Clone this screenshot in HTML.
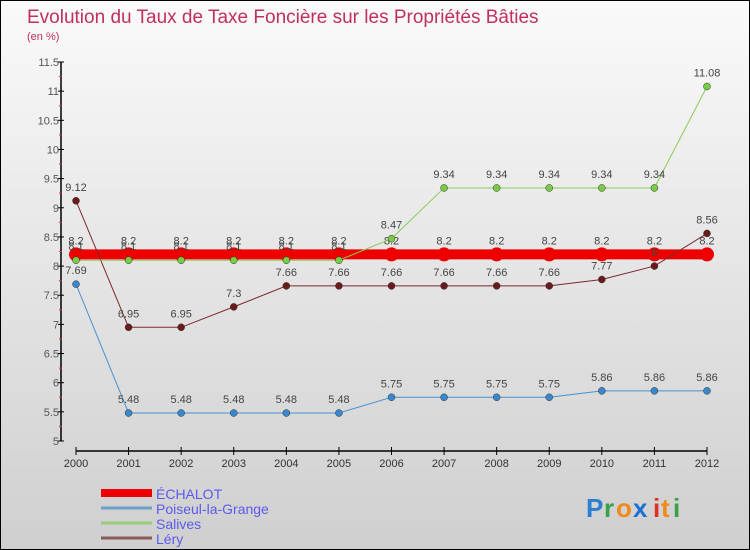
<!DOCTYPE html>
<html><head><meta charset="utf-8"><style>
body{margin:0;}
#wrap{width:748px;height:548px;border:1px solid #000;background:linear-gradient(#fafafa,#cfcfcf);position:relative;overflow:hidden;font-family:"Liberation Sans",sans-serif;}
</style></head><body>
<div id="wrap">
<svg id="svg" width="748" height="548" xmlns="http://www.w3.org/2000/svg">
<text x="26" y="22" font-size="19" fill="#c0305a">Evolution du Taux de Taxe Foncière sur les Propriétés Bâties</text>
<text x="26" y="39" font-size="11" fill="#c0305a">(en %)</text>
<g id="axes"></g><g id="series"></g><g id="legend"></g>
<g font-size="26" font-weight="bold">
<text x="585" y="516" fill="#2a7fd0">P</text><text x="603" y="516" fill="#3aa04a">r</text><text x="615" y="516" fill="#f08a1a">o</text><text x="632" y="516" fill="#1a6fd0">x</text><text x="652" y="516" fill="#e03020">i</text><text x="660" y="516" fill="#f08a1a">t</text><text x="672" y="516" fill="#3aa04a">i</text>
</g>
</svg></div>
<script>
const years=[2000,2001,2002,2003,2004,2005,2006,2007,2008,2009,2010,2011,2012];
const yTicks=[5,5.5,6,6.5,7,7.5,8,8.5,9,9.5,10,10.5,11,11.5];
const echalot=[8.2,8.2,8.2,8.2,8.2,8.2,8.2,8.2,8.2,8.2,8.2,8.2,8.2];
const poiseul=[7.69,5.48,5.48,5.48,5.48,5.48,5.75,5.75,5.75,5.75,5.86,5.86,5.86];
const salives=[8.1,8.1,8.1,8.1,8.1,8.1,8.47,9.34,9.34,9.34,9.34,9.34,11.08];
const lery=[9.12,6.95,6.95,7.3,7.66,7.66,7.66,7.66,7.66,7.66,7.77,8,8.56];
const NS="http://www.w3.org/2000/svg";
const X=i=>75+i*(706-75)/12;
const Y=v=>440-(v-5)*(440-61)/6.5;
function mk(p,t,a){const e=document.createElementNS(NS,t);for(const k in a)e.setAttribute(k,a[k]);p.appendChild(e);return e;}
const ax=document.getElementById('axes'),se=document.getElementById('series'),lg=document.getElementById('legend');
let yl=mk(ax,'line',{x1:60,y1:61,x2:60,y2:440,stroke:'#000','stroke-width':1.5});


let xl=mk(ax,'line',{x1:75,y1:450,x2:706,y2:450,stroke:'#000','stroke-width':1.5});


yTicks.forEach((v,i)=>{
  mk(ax,'line',{x1:57,y1:Y(v),x2:63,y2:Y(v),stroke:'#000'});
  if(i<yTicks.length-1)mk(ax,'line',{x1:58,y1:Y(v+0.25),x2:61,y2:Y(v+0.25),stroke:'#e03030'});
  const t=mk(ax,'text',{x:58,y:Y(v)+4,'font-size':11,fill:'#555','text-anchor':'end'});
  t.textContent=String(v);
  
  
});
years.forEach((y,i)=>{
  mk(ax,'line',{x1:X(i),y1:446,x2:X(i),y2:454,stroke:'#000'});
  const t=mk(ax,'text',{x:X(i),y:466,'font-size':11,fill:'#333','text-anchor':'middle'});
  t.textContent=y;
  
  
});
function series(name,data,color,lw,r,dot,lab){
  const g=mk(se,'g',{});
  
  
  mk(g,'polyline',{points:data.map((v,i)=>X(i)+','+Y(v)).join(' '),fill:'none',stroke:color,'stroke-width':lw});
  data.forEach((v,i)=>{
    const c=mk(g,'circle',{cx:X(i),cy:Y(v),r:r,fill:dot,stroke:lw>3?'none':'#333','stroke-width':0.5});
    
    
    if(lab){const t=mk(g,'text',{x:X(i),y:Y(v)-10,'font-size':11,fill:'#444','text-anchor':'middle'});t.textContent=String(v);}
  });
}
series('echalot',echalot,'#ee0000',10,7,'#ee0000',true);
series('lery',lery,'#7a2a2a',1,3.5,'#6a1a1a',true);
series('poiseul',poiseul,'#4a90d0',1,3.5,'#3a88cc',true);
series('salives',salives,'#88cc55',1,3.5,'#77cc44',true);
const leg=[['ÉCHALOT','#ee0000',8],['Poiseul-la-Grange','#6ca0cc',3],['Salives','#99cc77',3],['Léry','#8a5a5a',3]];
leg.forEach((l,i)=>{
  const y=492+i*15;
  const g=mk(lg,'g',{});
  
  
  mk(g,'line',{x1:100,y1:y,x2:151,y2:y,stroke:l[1],'stroke-width':l[2]});
  const t=mk(g,'text',{x:155,y:y+6,'font-size':14,fill:'#5a5aee'});t.textContent=l[0];
});
</script></body></html>
